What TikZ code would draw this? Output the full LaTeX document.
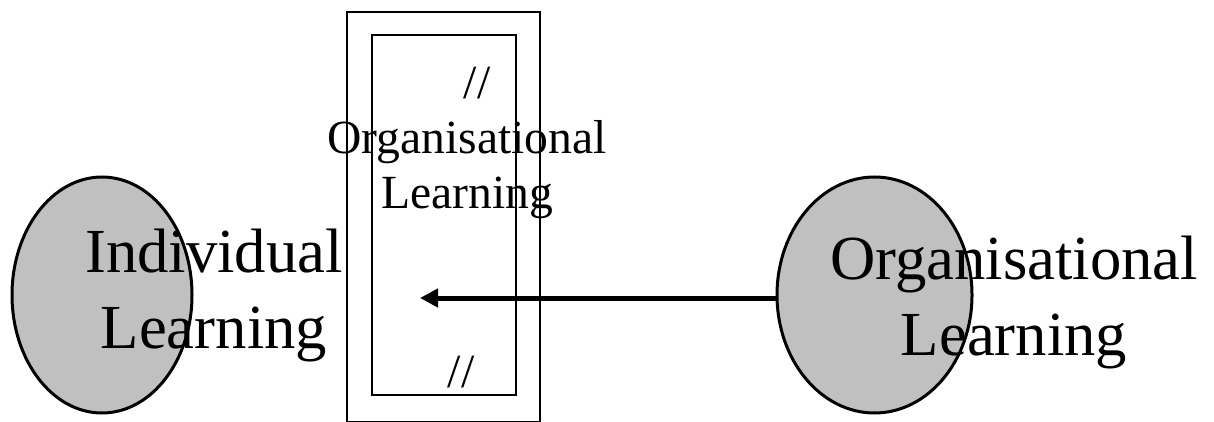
\documentclass[tikz,border=0pt]{standalone}
\usepackage{fontspec}
\setmainfont{Liberation Serif}
\usetikzlibrary{arrows.meta,shapes.geometric}
\tikzset{
  blob/.style={ellipse, draw=black, line width=3pt, fill=blobgray, inner sep=0pt},
  frame/.style={draw=black, line width=1.5pt},
  bigtext/.style={align=center, inner sep=0pt, anchor=base, font=\fontsize{62.7pt}{76pt}\selectfont},
  midtext/.style={align=center, inner sep=0pt, anchor=base, font=\fontsize{47.6pt}{55pt}\selectfont},
  bigarrow/.style={line width=5pt, -{Triangle[length=18pt,width=18pt]}}
}
\definecolor{blobgray}{RGB}{192,192,192}
\begin{document}
\begin{tikzpicture}[x=1pt,y=-1pt]
\useasboundingbox (0,0) rectangle (1214,422);
% frames
\draw[frame] (347,12) rectangle (540,421.5);
\draw[frame] (372,35) rectangle (516,395);
% ellipses
\node[blob, minimum width=180pt, minimum height=236pt] (indiv) at (102,295) {};
\node[blob, minimum width=195pt, minimum height=236pt] (org) at (874.5,295) {};
% texts
\node[bigtext] (indivtxt) at (214,348) {Individual\\Learning};
\node[bigtext] (orgtxt) at (1014,355) {Organisational\\Learning};
\node[midtext] (midtxt) at (467,208) {\hspace*{20pt}//\\Organisational\\Learning};
\node[midtext] (slash) at (461,387) {//};
% arrow
\coordinate (tip) at (420,298);
\draw[bigarrow] (tip -| org.west) -- (tip);
\end{tikzpicture}
\end{document}
